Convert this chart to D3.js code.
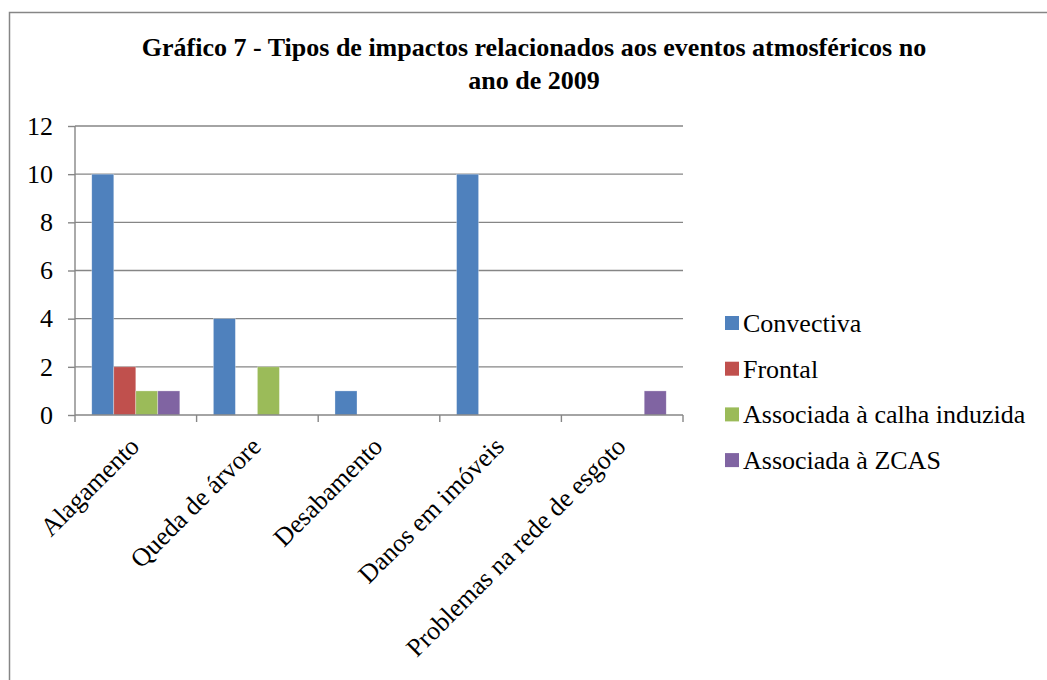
<!DOCTYPE html>
<html>
<head>
<meta charset="utf-8">
<script src="https://cdn.jsdelivr.net/npm/d3@7"></script>
<style>
  body{margin:0;background:#fff}
</style>
</head>
<body>
<div id="chart"></div>
<script>
// chart data
let categories=["Alagamento","Queda de árvore","Desabamento","Danos em imóveis","Problemas na rede de esgoto"]
let seriesNames=["Convectiva","Frontal","Associada à calha induzida","Associada à ZCAS"]
let convectiva=[10,4,1,10,0]
let frontal=[2,0,0,0,0]
let calha=[1,2,0,0,0]
let zcas=[1,0,0,0,1]
let yTicks=[0,2,4,6,8,10,12]
let titleLines=["Gráfico 7 - Tipos de impactos relacionados aos eventos atmosféricos no","ano de 2009"]
let colors=["#4F81BD","#C0504D","#9BBB59","#8064A2"]

let seriesValues=[convectiva,frontal,calha,zcas]
let serif="Liberation Serif"

let width=1047
let height=680
let svg=d3.select("#chart").append("svg").attr("width",width).attr("height",height)

//outer border of the chart box
svg.append("rect").attr("x",9.5).attr("y",12.5).attr("width",1100).attr("height",700)
  .attr("fill","none").attr("stroke","#868686").attr("stroke-width",1.5)

//scales
let x0=d3.scaleBand().domain(categories).range([75,683]).paddingInner(0).paddingOuter(0)
let bw=x0.bandwidth()
let x1=d3.scaleBand().domain(seriesNames).range([bw*0.138,bw*0.862]).padding(0)
let y=d3.scaleLinear().domain([0,12]).range([415,126])

//gridlines
svg.append("g").selectAll("line").data(yTicks.filter(d=>d>0)).enter().append("line")
  .attr("x1",75).attr("x2",683).attr("y1",d=>y(d)).attr("y2",d=>y(d))
  .attr("stroke","#868686").attr("stroke-width",1.4)

//bars
let data=[]
categories.forEach((c,i)=>seriesNames.forEach((s,j)=>data.push({cat:c,ser:s,val:seriesValues[j][i],color:colors[j]})))
svg.append("g").selectAll("rect").data(data.filter(d=>d.val>0)).enter().append("rect")
  .attr("x",d=>x0(d.cat)+x1(d.ser)).attr("width",x1.bandwidth())
  .attr("y",d=>y(d.val)).attr("height",d=>y(0)-y(d.val))
  .attr("fill",d=>d.color).attr("stroke","#ffffff").attr("stroke-opacity",0.5).attr("stroke-width",0.6)

//y axis
let axisY=d3.axisLeft(y).tickValues(yTicks).tickSize(7).tickPadding(15).tickFormat(d3.format("d"))
let gy=svg.append("g").attr("transform","translate(75,0)").call(axisY)
gy.attr("font-family",null).attr("font-size",null)
gy.select(".domain").attr("stroke","#868686").attr("stroke-width",1.4).attr("d","M0,126V415")
gy.selectAll(".tick line").attr("stroke","#868686").attr("stroke-width",1.4)
gy.selectAll(".tick text").style("font-family",serif).style("font-size","26px").attr("fill","#000")

//x axis
let gx=svg.append("g").attr("transform","translate(0,415)")
gx.append("line").attr("x1",75).attr("x2",683).attr("y1",0).attr("y2",0).attr("stroke","#868686").attr("stroke-width",1.4)
let boundaries=categories.map(c=>x0(c)).concat([x0.range()[1]])
gx.selectAll(".xt").data(boundaries).enter().append("line").attr("class","xt")
  .attr("x1",d=>d).attr("x2",d=>d).attr("y1",0).attr("y2",7).attr("stroke","#868686").attr("stroke-width",1.4)
svg.append("g").selectAll("text").data(categories).enter().append("text")
  .style("font-size","26px").style("font-family",serif).attr("text-anchor","end")
  .attr("transform",d=>"translate("+(x0(d)+bw/2+5)+",448) rotate(-45)")
  .text(d=>d)

//legend
seriesNames.forEach((s,i)=>{
  let ly=323+i*45.7
  svg.append("rect").attr("x",725).attr("y",ly-7).attr("width",14).attr("height",14).attr("fill",colors[i])
  svg.append("text").attr("x",743).attr("y",ly+9).style("font-family",serif).style("font-size","26px").text(s)
})

//title, one text per line
titleLines.forEach((t,i)=>{
  svg.append("text").attr("x",534).attr("y",56+i*33).attr("text-anchor","middle")
    .style("font-family",serif).style("font-weight","bold").style("font-size","26px").text(t)
})
</script>
</body>
</html>
